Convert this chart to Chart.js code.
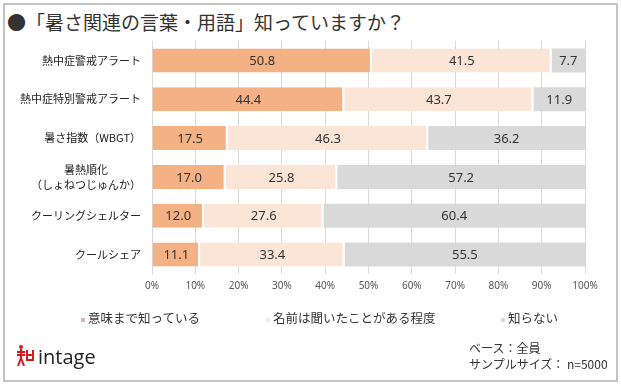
<!DOCTYPE html>
<html lang="ja">
<head>
<meta charset="utf-8">
<script src="https://cdn.jsdelivr.net/npm/chart.js@4"></script>
<style>
  body { margin: 0; background: #fff; font-family: "Noto Sans CJK JP", "Noto Sans", sans-serif; }
  #wrap { position: relative; width: 621px; height: 385px; overflow: hidden; }
  #frame { position: absolute; left: 3px; top: 3px; width: 611px; height: 375px; border: 2px solid #c4c4c4; }
  #title { position: absolute; left: 7px; top: 9px; font-size: 19px; line-height: 26px; color: #333; white-space: nowrap; }
  canvas { position: absolute; left: 0; top: 0; }
  .leg { position: absolute; top: 310px; font-size: 12.5px; line-height: 16px; color: #333; white-space: nowrap; }
  .leg i { display: inline-block; width: 4px; height: 4px; margin-right: 3px; vertical-align: middle; }
  #logo { position: absolute; left: 16px; top: 343px; height: 26px; display: flex; align-items: center; }
  #logo span { font-family: "Open Sans", sans-serif; font-size: 20px; color: #222; margin-left: 4px; }
  #note { position: absolute; left: 469px; top: 340px; font-size: 12px; line-height: 16px; color: #333; }
</style>
</head>
<body>
<div id="wrap">
  <div id="frame"></div>
  <div id="title">●「暑さ関連の言葉・用語」知っていますか？</div>
  <canvas id="chart" width="621" height="385"></canvas>
  <div id="legend"></div>
  <div id="logo">
    <svg width="18" height="24" viewBox="0 0 18 24">
      <g stroke="#d7191f" stroke-width="2" fill="none">
        <circle cx="5" cy="3" r="2" fill="#d7191f" stroke="none"/>
        <path d="M1 8 H9 M5 5 V14 M5 14 L2 22 M5 14 L8 22 M1 11 L9 11"/>
        <path d="M11 6 V16 H17 V6 M11 11 H17"/>
      </g>
    </svg>
    <span>intage</span>
  </div>
  <div id="note">ベース：全員<br>サンプルサイズ： n=5000</div>
</div>
<script>
const categories = [
  "熱中症警戒アラート",
  "熱中症特別警戒アラート",
  "暑さ指数（WBGT）",
  ["暑熱順化　　　", "（しょねつじゅんか）"],
  "クーリングシェルター",
  "クールシェア",
];
const seriesNames = ["意味まで知っている", "名前は聞いたことがある程度", "知らない"];
const knowMeaning = [50.8, 44.4, 17.5, 17.0, 12.0, 11.1];
const knowName = [41.5, 43.7, 46.3, 25.8, 27.6, 33.4];
const dontKnow = [7.7, 11.9, 36.2, 57.2, 60.4, 55.5];
const colors = ["#f4b183", "#fbe5d6", "#d9d9d9"];
const legendX = [81, 266, 501];

// html legend, Excel style spacing
const legendEl = document.getElementById("legend");
seriesNames.forEach((name, i) => {
  const d = document.createElement("div");
  d.className = "leg";
  d.style.left = legendX[i] + "px";
  d.innerHTML = `<i style="background:${colors[i]}"></i>${name}`;
  legendEl.appendChild(d);
});

const valueLabels = {
  id: "valueLabels",
  afterDatasetsDraw(chart) {
    const ctx = chart.ctx;
    ctx.save();
    ctx.font = '13px "Noto Sans", sans-serif';
    ctx.fillStyle = "#333";
    ctx.textAlign = "center";
    ctx.textBaseline = "middle";
    chart.data.datasets.forEach((ds, i) => {
      chart.getDatasetMeta(i).data.forEach((bar, j) => {
        const p = bar.getCenterPoint();
        ctx.fillText(ds.data[j].toFixed(1), p.x, p.y + 1);
      });
    });
    ctx.restore();
  },
};

const datasets = [knowMeaning, knowName, dontKnow].map((data, i) => ({
  label: seriesNames[i],
  data,
  backgroundColor: colors[i],
  borderColor: "#ffffff",
  borderWidth: { left: 0, right: i < 2 ? 2 : 0, top: 0, bottom: 0 },
  borderSkipped: false,
  categoryPercentage: 1,
  barPercentage: 0.62,
}));

new Chart(document.getElementById("chart"), {
  type: "bar",
  data: { labels: categories, datasets },
  plugins: [valueLabels],
  options: {
    indexAxis: "y",
    responsive: false,
    animation: false,
    layout: { padding: { left: 0, right: 36, top: 41, bottom: 85 } },
    plugins: { legend: { display: false }, tooltip: { enabled: false } },
    scales: {
      x: {
        stacked: true,
        min: 0,
        max: 100,
        afterFit: (s) => { s.height = 26; },
        ticks: {
          stepSize: 10,
          color: "#555",
          font: { size: 10, family: '"Noto Sans", sans-serif' },
          padding: 6,
          callback: (v) => v + "%",
        },
        grid: { color: "#d9d9d9", drawTicks: false },
        border: { display: false },
      },
      y: {
        stacked: true,
        afterFit: (s) => { s.width = 152; },
        ticks: {
          color: "#222",
          font: { size: 11, family: '"Noto Sans CJK JP", sans-serif', lineHeight: 1.35 },
          padding: 11,
        },
        grid: { display: false, drawTicks: false },
        border: { display: true, color: "#d9d9d9" },
      },
    },
  },
});
</script>
</body>
</html>
